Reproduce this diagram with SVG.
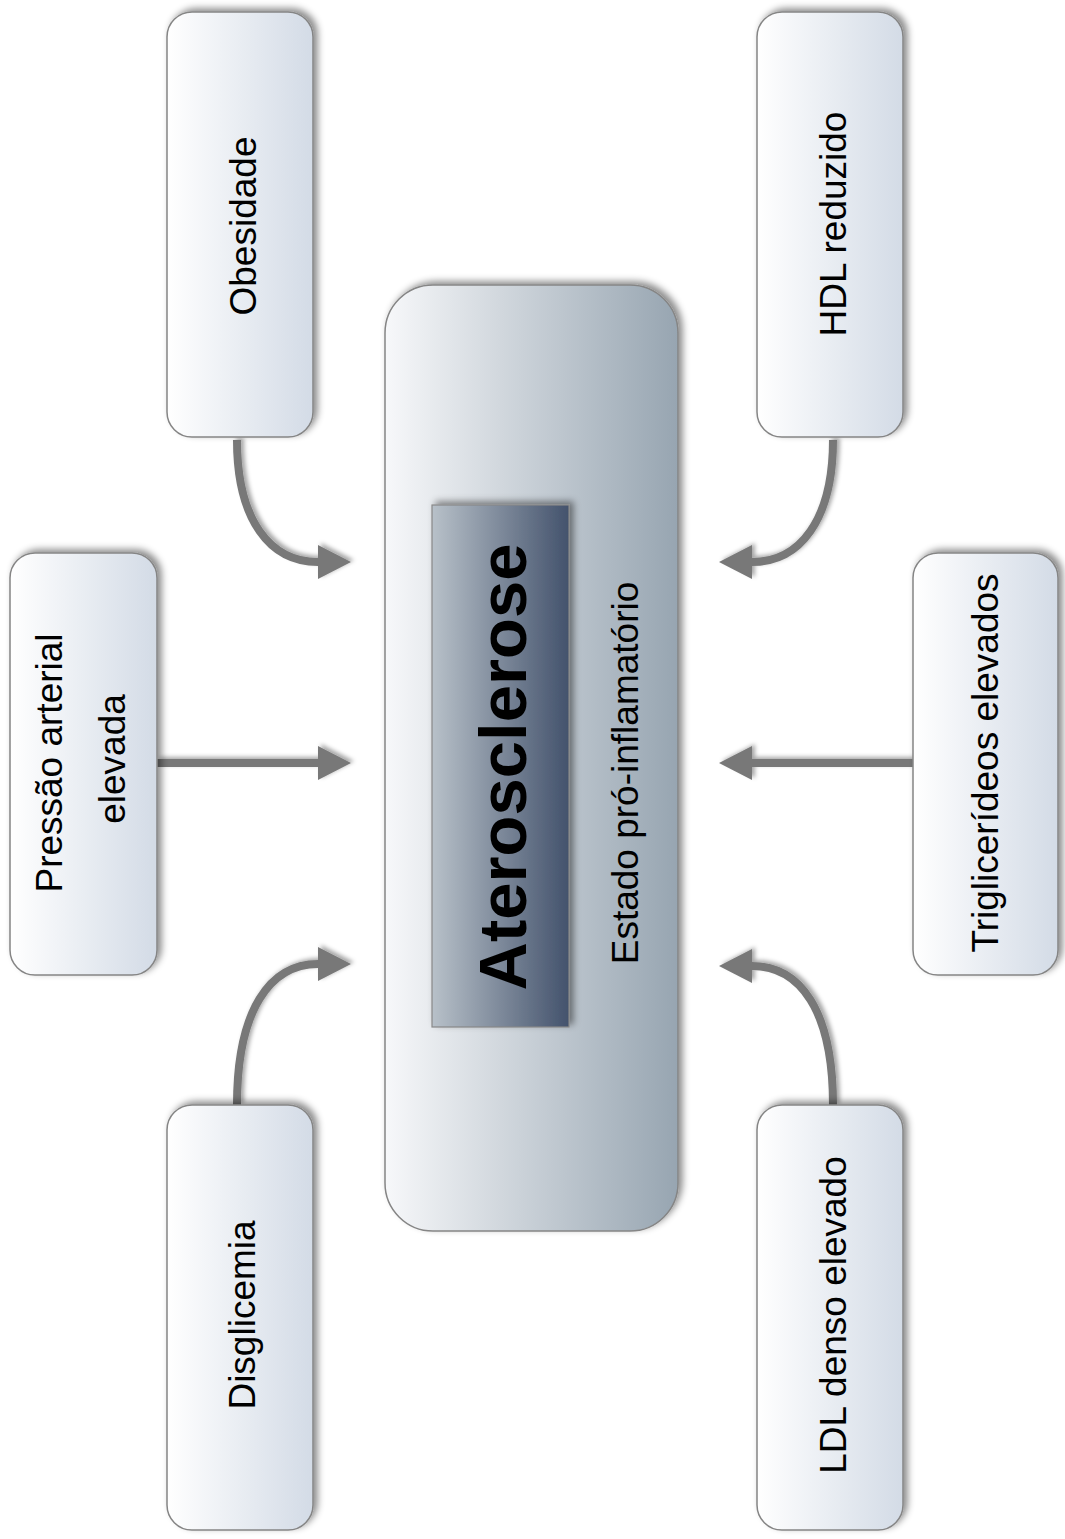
<svg xmlns="http://www.w3.org/2000/svg" width="1065" height="1539" viewBox="0 0 1065 1539">
<defs>
<linearGradient id="gNode" x1="0" y1="0" x2="1" y2="0">
<stop offset="0" stop-color="#ffffff"/>
<stop offset="1" stop-color="#d3dbe6"/>
</linearGradient>
<linearGradient id="gMain" x1="0" y1="0" x2="1" y2="0">
<stop offset="0" stop-color="#f7f8fa"/>
<stop offset="1" stop-color="#97a5b1"/>
</linearGradient>
<linearGradient id="gInner" x1="0" y1="0" x2="1" y2="0">
<stop offset="0" stop-color="#b8c1c9"/>
<stop offset="1" stop-color="#43526c"/>
</linearGradient>
<filter id="sh" x="-20%" y="-20%" width="140%" height="140%">
<feDropShadow dx="4" dy="-3" stdDeviation="3.5" flood-color="#000" flood-opacity="0.45"/>
</filter>
<filter id="ash" filterUnits="userSpaceOnUse" x="0" y="0" width="1065" height="1539">
<feDropShadow dx="3" dy="-2" stdDeviation="2" flood-color="#000" flood-opacity="0.35"/>
</filter>
<marker id="ah" markerUnits="userSpaceOnUse" markerWidth="34" markerHeight="36" viewBox="0 -18 34 36" refX="0" refY="0" orient="auto">
<path d="M0,-17 L33,0 L0,17 Z" fill="#787878"/>
</marker>
</defs>
<style>
.box{fill:url(#gNode);stroke:#858585;stroke-width:1.5;filter:url(#sh)}
.t{font-family:"Liberation Sans",Arial,sans-serif;font-size:37px;fill:#000;text-anchor:middle}
.con{fill:none;stroke:#787878;stroke-width:8;marker-end:url(#ah)}
</style>

<g id="connectors" filter="url(#ash)">
<path class="con" d="M237,440 C237,520 270,562 318,562"/>
<path class="con" d="M157,763 L318,763"/>
<path class="con" d="M237,1105 C237,1010 270,964 318,964"/>
<path class="con" d="M833,440 C833,520 800,562 752,562"/>
<path class="con" d="M913,763 L752,763"/>
<path class="con" d="M833,1105 C833,1010 800,966 752,966"/>
</g>

<g id="center">
<rect x="385" y="285" width="293" height="946" rx="48" fill="url(#gMain)" stroke="#858585" stroke-width="1.5" filter="url(#sh)"/>
<rect x="432" y="505" width="137" height="522" fill="url(#gInner)" stroke="#888" stroke-width="1.2" filter="url(#sh)"/>
<text class="t" transform="translate(526,767) rotate(-90)" style="font-weight:bold;font-size:67px">Aterosclerose</text>
<text class="t" transform="translate(638,773) rotate(-90)">Estado pró-inflamatório</text>
</g>

<g id="obesidade">
<rect class="box" x="167" y="12" width="146" height="425" rx="25"/>
<text class="t" transform="translate(256,226) rotate(-90)">Obesidade</text>
</g>

<g id="hdl">
<rect class="box" x="757" y="12" width="146" height="425" rx="25"/>
<text class="t" transform="translate(846,224) rotate(-90)">HDL reduzido</text>
</g>

<g id="pressao">
<rect class="box" x="10" y="553" width="147" height="422" rx="25"/>
<text class="t" transform="translate(62,763) rotate(-90)">Pressão arterial</text>
<text class="t" transform="translate(125,759) rotate(-90)">elevada</text>
</g>

<g id="triglicerideos">
<rect class="box" x="913" y="553" width="145" height="422" rx="25"/>
<text class="t" transform="translate(998,763) rotate(-90)">Triglicerídeos elevados</text>
</g>

<g id="disglicemia">
<rect class="box" x="167" y="1105" width="146" height="425" rx="25"/>
<text class="t" transform="translate(255,1315) rotate(-90)">Disglicemia</text>
</g>

<g id="ldl">
<rect class="box" x="757" y="1105" width="146" height="425" rx="25"/>
<text class="t" transform="translate(846,1315) rotate(-90)">LDL denso elevado</text>
</g>
</svg>
